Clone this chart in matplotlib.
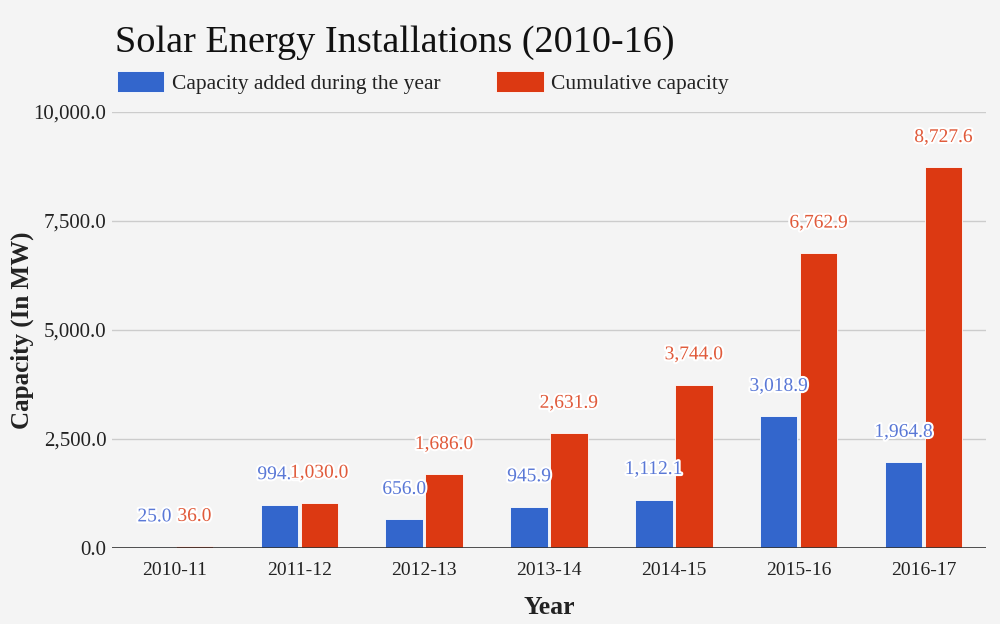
import matplotlib.pyplot as plt
import matplotlib.patheffects as pe
import numpy as np
from matplotlib.ticker import FuncFormatter

# Data
years = ['2010-11', '2011-12', '2012-13', '2013-14', '2014-15', '2015-16', '2016-17']
added = [25.0, 994.1, 656.0, 945.9, 1112.1, 3018.9, 1964.8]
cumulative = [36.0, 1030.0, 1686.0, 2631.9, 3744.0, 6762.9, 8727.6]

blue = '#3366cc'
red = '#dc3912'
bg = '#f4f4f4'

plt.rcParams['font.family'] = ['Liberation Serif', 'DejaVu Serif']

fig = plt.figure(figsize=(10, 6.24), dpi=100, facecolor=bg)
ax = fig.add_axes([0.112, 0.1218, 0.874, 0.6987], facecolor=bg)

x = np.arange(len(years))
w = 0.3
b1 = ax.bar(x - w / 2 - 0.01, added, w, color=blue, edgecolor='white', linewidth=0.6,
            label='Capacity added during the year', zorder=3)
b2 = ax.bar(x + w / 2 + 0.01, cumulative, w, color=red, edgecolor='white', linewidth=0.6,
            label='Cumulative capacity', zorder=3)

# value labels with white halo, ~30px above bar top
halo = [pe.withStroke(linewidth=3, foreground='white')]
for bars, vals, col in [(b1, added, '#5a78d6'), (b2, cumulative, '#e05a3a')]:
    for r, v in zip(bars, vals):
        ax.annotate(f'{v:,.1f}', (r.get_x() + r.get_width() / 2, v),
                    xytext=(0, 30), textcoords='offset pixels',
                    ha='center', va='center', fontsize=14, color=col,
                    path_effects=halo, zorder=5)

ax.set_xlim(-0.5, len(years) - 0.5)
ax.set_ylim(0, 10000)
ax.set_yticks([0, 2500, 5000, 7500, 10000])
ax.yaxis.set_major_formatter(FuncFormatter(lambda v, p: f'{v:,.1f}'))
ax.set_xticks(x)
ax.set_xticklabels(years)
ax.grid(axis='y', color='#cccccc', linewidth=1, zorder=0)
ax.axhline(0, color='#333333', linewidth=1.2, zorder=4)
for s in ax.spines.values():
    s.set_visible(False)
ax.tick_params(axis='x', length=0, labelsize=14, colors='#222222', pad=10)
ax.tick_params(axis='y', length=0, labelsize=15, colors='#222222', pad=4)

ax.set_xlabel('Year', fontsize=18.5, fontweight='bold', color='#222222', labelpad=12)
ax.set_ylabel('Capacity (In MW)', fontsize=18, fontweight='bold', color='#222222', labelpad=0)

fig.text(0.115, 0.932, 'Solar Energy Installations (2010-16)', fontsize=27.5, color='#111111',
         va='center', ha='left')
leg = fig.legend(loc='center left', bbox_to_anchor=(0.117, 0.868), ncol=2, frameon=False,
                 fontsize=15.5, handlelength=2.2, handleheight=1.1, columnspacing=2.6,
                 handletextpad=0.35, borderpad=0, borderaxespad=0)
for t in leg.get_texts():
    t.set_color('#222222')

fig.savefig('out.png', dpi=100, facecolor=bg)
